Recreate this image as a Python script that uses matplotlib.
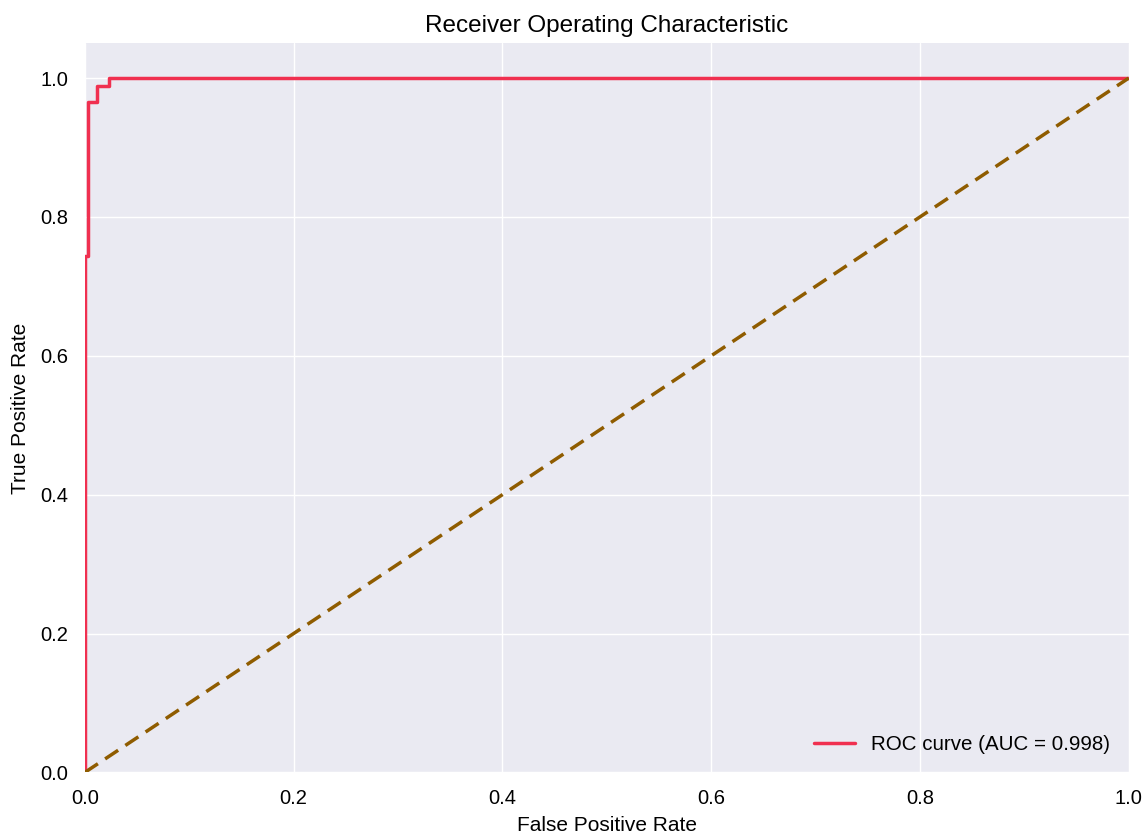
import matplotlib
matplotlib.use("Agg")
import matplotlib.pyplot as plt

plt.style.use("seaborn-v0_8")
plt.rcParams['font.family'] = ['Liberation Sans', 'DejaVu Sans']
plt.rcParams['text.color'] = 'black'
plt.rcParams['axes.labelcolor'] = 'black'
plt.rcParams['xtick.color'] = 'black'
plt.rcParams['ytick.color'] = 'black'

fpr = [0.0, 0.0, 0.003, 0.003, 0.012, 0.012, 0.023, 0.023, 1.0]
tpr = [0.0, 0.744, 0.744, 0.966, 0.966, 0.988, 0.988, 1.0, 1.0]
roc_auc = 0.998
diag = [0.0, 1.0]

fig = plt.figure(figsize=(11.47, 8.35), dpi=100)
ax = fig.add_axes([0.074, 0.075, 0.910, 0.873])
ax.plot(fpr, tpr, color="#f03050", lw=2.5, label=f"ROC curve (AUC = {roc_auc:.3f})")
ax.plot(diag, diag, color="#8f5c00", lw=2.5, linestyle="--", dashes=(4.5, 2.5))
ax.set_xlim(0.0, 1.0)
ax.set_ylim(0.0, 1.05)
ax.set_xticks([0, 0.2, 0.4, 0.6, 0.8, 1.0])
ax.set_yticks([0, 0.2, 0.4, 0.6, 0.8, 1.0])
ax.tick_params(axis='y', labelsize=14.5, pad=12)
ax.tick_params(axis='x', labelsize=14.5, pad=12)
ax.set_xlabel("False Positive Rate", fontsize=15, labelpad=6)
ax.set_ylabel("True Positive Rate", fontsize=15, labelpad=7)
ax.set_title("Receiver Operating Characteristic", fontsize=17.5, pad=8)
ax.legend(loc="lower right", fontsize=14.8, handlelength=2.0)
fig.savefig("out.png", dpi=100)
